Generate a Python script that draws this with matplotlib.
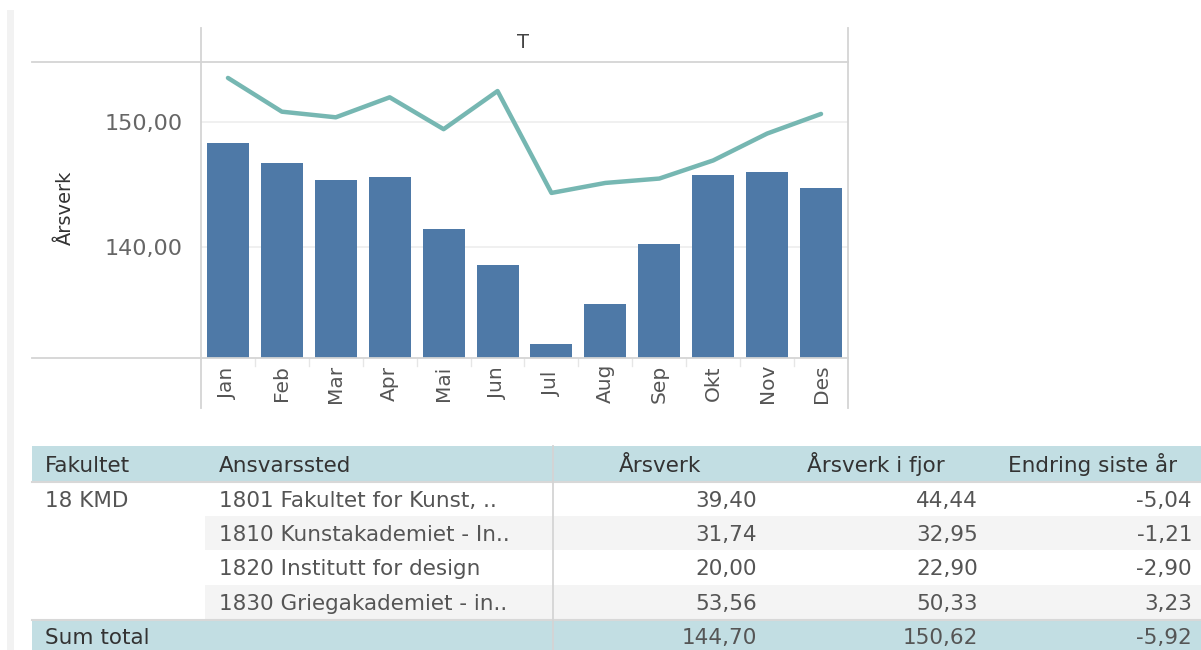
import matplotlib
matplotlib.use("Agg")
import matplotlib.pyplot as plt
from matplotlib.lines import Line2D
from matplotlib.patches import Rectangle
from matplotlib.transforms import blended_transform_factory

# ---------------- data ----------------
months = ["Jan", "Feb", "Mar", "Apr", "Mai", "Jun", "Jul", "Aug", "Sep", "Okt", "Nov", "Des"]
arsverk = [148.3, 146.7, 145.3, 145.6, 141.4, 138.5, 132.2, 135.4, 140.2, 145.7, 146.0, 144.7]
arsverk_fjor = [153.5, 150.8, 150.35, 151.95, 149.4, 152.45, 144.3, 145.1, 145.45, 146.9, 149.05, 150.62]
yticks = [140, 150]
panel_header = "T"
y_label = "Årsverk"

table_cols = ["Fakultet", "Ansvarssted", "Årsverk", "Årsverk i fjor", "Endring siste år"]
fakultet = "18 KMD"
ansvarssted = ["1801 Fakultet for Kunst, ..", "1810 Kunstakademiet - In..",
               "1820 Institutt for design", "1830 Griegakademiet - in.."]
t_arsverk = [39.40, 31.74, 20.00, 53.56]
t_fjor = [44.44, 32.95, 22.90, 50.33]
t_endring = [-5.04, -1.21, -2.90, 3.23]
total_label = "Sum total"
tot_arsverk = 144.70
tot_fjor = 150.62
tot_endring = -5.92

# ---------------- helpers ----------------
W, H = 1201, 650
fig = plt.figure(figsize=(W / 100, H / 100), dpi=100)
fig.patch.set_facecolor("white")
FONT = "DejaVu Sans"
TSIZE = 15.5


def fx(x):
    return x / W


def fy(y):
    return 1 - y / H


def fmt(v):
    return f"{v:.2f}".replace(".", ",")


def hline(x0, x1, y, color="#d4d4d4", lw=1.3):
    fig.add_artist(Line2D([fx(x0), fx(x1)], [fy(y), fy(y)], color=color, lw=lw,
                          transform=fig.transFigure))


def vline(x, y0, y1, color="#d4d4d4", lw=1.3):
    fig.add_artist(Line2D([fx(x), fx(x)], [fy(y0), fy(y1)], color=color, lw=lw,
                          transform=fig.transFigure))


def rect(x0, y0, x1, y1, color):
    fig.add_artist(Rectangle((fx(x0), fy(y1)), fx(x1) - fx(x0), fy(y0) - fy(y1),
                             facecolor=color, edgecolor="none", transform=fig.transFigure,
                             zorder=0))


def ftext(x, y, s, ha="left", size=TSIZE, color="#555555", **kw):
    # y is the vertical centre (of digit/cap height) in pixels
    cap = 0.729 * size * 100 / 72.0
    fig.text(fx(x), fy(y + cap / 2), s, ha=ha, va="baseline", fontsize=size, color=color,
             family=FONT, **kw)


# left grey strip
rect(7, 10, 14, 650, "#f2f2f2")

# ---------------- chart ----------------
L, R, T, B = 201, 848, 62.3, 357.7
ax = fig.add_axes([fx(L), fy(B), fx(R) - fx(L), fy(T) - fy(B)])
ax.set_facecolor("none")
x = list(range(len(months)))
ax.bar(x, arsverk, width=0.78, color="#4e79a7", zorder=2)
ax.plot(x, arsverk_fjor, color="#76b7b2", lw=3.2, zorder=3, solid_capstyle="round")
ax.set_xlim(-0.5, len(months) - 0.5)
ax.set_ylim(131.12, 154.75)
for s in ax.spines.values():
    s.set_visible(False)
ax.set_xticks([])
ax.set_yticks(yticks)
ax.set_yticklabels([fmt(v) for v in yticks], family=FONT, fontsize=16, color="#666666")
ax.tick_params(axis="y", length=0, pad=13)
for v in yticks:
    ax.axhline(v, color="#eeeeee", lw=1.2, zorder=1)

# frame lines
hline(32, R, T)
hline(32, R, B)
vline(L, 28, 408)
vline(R, 28, 408)

# month labels (rotated, centred in header band)
trans = blended_transform_factory(ax.transData, fig.transFigure)
for i, m in enumerate(months):
    ax.text(i, fy(383.5), m, rotation=90, ha="center", va="center", fontsize=14.5,
            color="#555555", family=FONT, transform=trans)
for i in range(1, len(months)):
    ax.add_artist(Line2D([i - 0.5, i - 0.5], [fy(359), fy(366)], color="#e6e6e6", lw=1,
                         transform=trans, clip_on=False))

fig.text(fx(523), fy(43), panel_header, ha="center", va="center", fontsize=14,
         color="#444444", family=FONT)
fig.text(fx(65), fy(208), y_label, rotation=90, ha="center", va="center", fontsize=14,
         color="#333333", family=FONT)

# ---------------- table ----------------
HDR_BG = "#c2dee3"
rect(32, 446, W, 481.5, HDR_BG)
row_tops = [482, 516, 550.5, 585]
row_h = 34.2
for i, t in enumerate(row_tops):
    if i % 2 == 1:
        rect(205, t, W, t + row_h, "#f4f4f4")
rect(32, 620, W, 650, HDR_BG)
hline(32, W, 482, color="#d8d8d8", lw=1.5)
hline(32, W, 619.5, color="#d8d8d8", lw=1.5)
vline(553, 446, 650, color="#d4d4d4", lw=1.3)

HDR_Y = 464
HDR_C = "#333333"
ftext(45, HDR_Y, table_cols[0], color=HDR_C)
ftext(219, HDR_Y, table_cols[1], color=HDR_C)
ftext(660, HDR_Y, table_cols[2], ha="center", color=HDR_C)
ftext(876, HDR_Y, table_cols[3], ha="center", color=HDR_C)
ftext(1093, HDR_Y, table_cols[4], ha="center", color=HDR_C)

COLX = [757, 978, 1192]
ftext(45, row_tops[0] + row_h / 2, fakultet)
for i, t in enumerate(row_tops):
    yc = t + row_h / 2
    ftext(219, yc, ansvarssted[i])
    ftext(COLX[0], yc, fmt(t_arsverk[i]), ha="right")
    ftext(COLX[1], yc, fmt(t_fjor[i]), ha="right")
    ftext(COLX[2], yc, fmt(t_endring[i]), ha="right")

TOT_Y = 636
ftext(45, TOT_Y, total_label, color=HDR_C)
ftext(COLX[0], TOT_Y, fmt(tot_arsverk), ha="right")
ftext(COLX[1], TOT_Y, fmt(tot_fjor), ha="right")
ftext(COLX[2], TOT_Y, fmt(tot_endring), ha="right")

fig.savefig("out.png", dpi=100, facecolor="white")
